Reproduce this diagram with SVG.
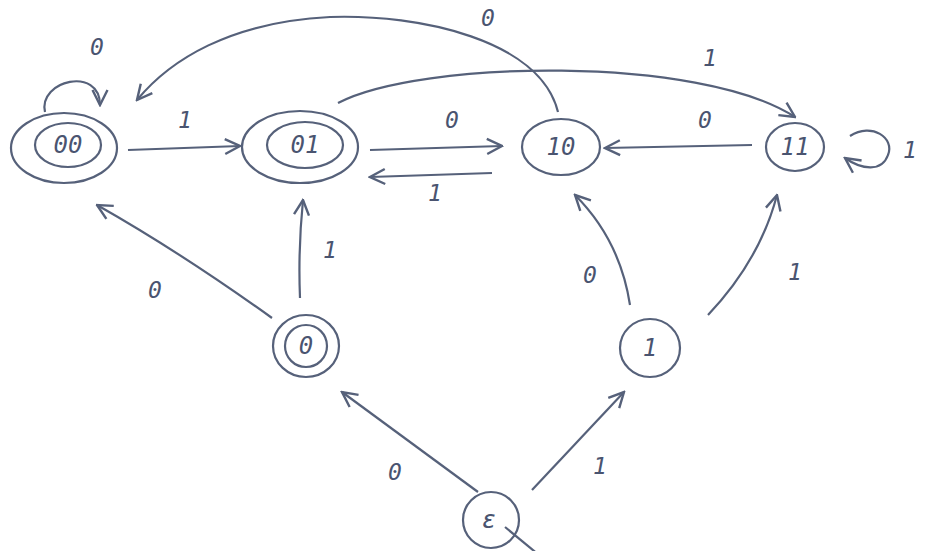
<svg xmlns="http://www.w3.org/2000/svg" width="939" height="551" viewBox="0 0 939 551">
<style>
.n{fill:none;stroke:#56617a;stroke-width:2.2}
.e{fill:none;stroke:#56617a;stroke-width:2.2;marker-end:url(#a)}
.t{font-family:"DejaVu Sans Mono",monospace;font-style:italic;font-size:24px;fill:#4a5470;text-anchor:middle;dominant-baseline:central}
.l{font-family:"DejaVu Sans Mono",monospace;font-style:italic;font-size:23px;fill:#4a5470;text-anchor:middle;dominant-baseline:central}
</style>
<defs>
<marker id="a" viewBox="0 0 12 12" refX="11" refY="6" markerWidth="18" markerHeight="18" orient="auto" markerUnits="userSpaceOnUse">
<path d="M1,1 L11,6 L1,11" fill="none" stroke="#56617a" stroke-width="1.6"/>
</marker>
</defs>
<rect width="939" height="551" fill="#ffffff"/>
<g id="connectors">
<path class="n" d="M545,560 L505,527"/>
<path class="e" d="M478,492 L342,392"/>
<path class="e" d="M532,490 L624,392"/>
<path class="e" d="M272,318 Q180,252 97,205"/>
<path class="e" d="M300,298 Q298,250 303,200"/>
<path class="e" d="M630,305 Q620,240 575,195"/>
<path class="e" d="M708,315 Q760,260 777,195"/>
<path class="e" d="M128,150 L240,146"/>
<path class="e" d="M370,150 L502,146"/>
<path class="e" d="M492,173 L370,177"/>
<path class="e" d="M752,145 L605,148"/>
<path class="e" d="M558,112 C540,40 420,14 330,17 C230,22 170,60 137,100"/>
<path class="e" d="M338,103 C420,60 700,55 795,117"/>
<path class="e" d="M45,112 C38,80 100,66 100,105"/>
<path class="e" d="M850,136 C872,122 895,138 888,155 C882,172 862,170 845,158"/>
<text class="l" x="97" y="47">0</text>
<text class="l" x="185" y="120">1</text>
<text class="l" x="488" y="18">0</text>
<text class="l" x="710" y="58">1</text>
<text class="l" x="452" y="120">0</text>
<text class="l" x="435" y="193">1</text>
<text class="l" x="705" y="120">0</text>
<text class="l" x="910" y="150">1</text>
<text class="l" x="155" y="290">0</text>
<text class="l" x="330" y="250">1</text>
<text class="l" x="590" y="275">0</text>
<text class="l" x="795" y="272">1</text>
<text class="l" x="395" y="472">0</text>
<text class="l" x="600" y="466">1</text>
</g>
<g id="q00">
<ellipse class="n" cx="64" cy="148" rx="53" ry="35"/>
<ellipse class="n" cx="68" cy="145" rx="33" ry="22"/>
<text class="t" x="68" y="145">00</text>
</g>
<g id="q01">
<ellipse class="n" cx="300" cy="147" rx="58" ry="36"/>
<ellipse class="n" cx="305" cy="145" rx="38" ry="23"/>
<text class="t" x="305" y="145">01</text>
</g>
<g id="q10">
<ellipse class="n" cx="561" cy="147" rx="39" ry="28"/>
<text class="t" x="561" y="147">10</text>
</g>
<g id="q11">
<ellipse class="n" cx="795" cy="147" rx="29" ry="24"/>
<text class="t" x="795" y="147">11</text>
</g>
<g id="q0">
<ellipse class="n" cx="306" cy="346" rx="33" ry="31"/>
<ellipse class="n" cx="306" cy="346" rx="21" ry="21"/>
<text class="t" x="306" y="346">0</text>
</g>
<g id="q1">
<ellipse class="n" cx="650" cy="348" rx="30" ry="29"/>
<text class="t" x="650" y="348">1</text>
</g>
<g id="qe">
<ellipse class="n" cx="491" cy="520" rx="28" ry="28"/>
<text class="t" x="489" y="520">ε</text>
</g>
</svg>
